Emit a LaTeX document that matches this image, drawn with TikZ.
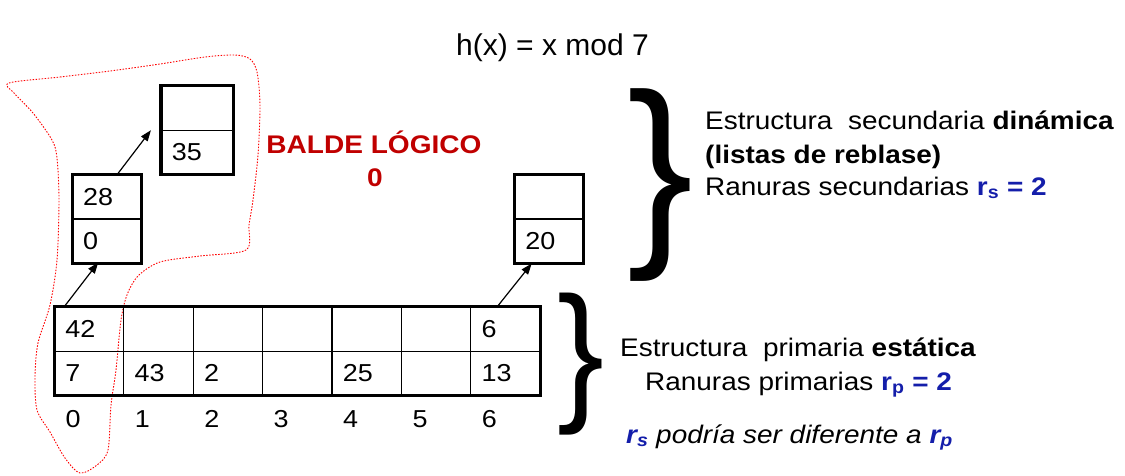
\documentclass[tikz,border=0pt]{standalone}
\usepackage{fontspec}
\usepackage{xcolor}
\usepackage{graphicx}
\usepackage{tikz}
\setmainfont{Liberation Sans}[FakeStretch=1.1]
\newfontfamily\titlefont{Liberation Sans}
\usetikzlibrary{arrows.meta, positioning, calc}
\definecolor{baldeColor}{RGB}{192,0,0}
\definecolor{rColor}{RGB}{20,30,170}
\definecolor{outlineColor}{RGB}{255,0,0}

\begin{document}
\begin{tikzpicture}[x=1pt, y=-1pt,
        cell/.style={rectangle, draw, line width=1.2pt, outer sep=0pt, inner xsep=11pt, inner ysep=0pt, text width=47.4pt, minimum height=44.5pt, align=left, font=\fontsize{24.5}{28}\selectfont},
        frame/.style={line width=3.2pt},
        arrow/.style={-{Triangle[length=11pt, width=8pt]}, line width=1.2pt},
        note/.style={anchor=base west, inner sep=0pt, font=\fontsize{25.4}{30}\selectfont},
        brace/.style={inner sep=0pt}
    ]
        \useasboundingbox (0,0) rectangle (1125,475);

        % Logical bucket outline
        \draw[draw=outlineColor, line width=0.9pt, dash pattern=on 1.5pt off 1.5pt]
            plot[smooth cycle, tension=0.5] coordinates {(9,83) (60,77) (110,71) (160,64) (205,57) (235,55) (250,59) (257,72) (260,105) (258,155) (253,200) (249,225) (246,250) (200,256) (160,262) (138,276) (127,295) (121,320) (116,370) (111,405) (108,450) (97,465) (80,473) (65,458) (50,432) (37,410) (35,377) (38,343) (50,305) (57,260) (59,200) (57,158) (52,140) (33,113) (14,93)};

        % Title
        \node[anchor=base, font=\titlefont\fontsize{30}{34}\selectfont] (title) at (552.5,55) {h(x) = x mod 7};

        % Primary table
        \foreach \i/\cellA/\cellB in {0/42/7, 1//43, 2//2, 3//, 4//25, 5//, 6/6/13} {
            \node[cell] (p\i a) at ({89+69.4*\i}, 328.85) {\cellA};
            \node[cell, below=0pt of p\i a] (p\i b) {\cellB};
            \node[anchor=base west, inner sep=0pt, font=\fontsize{24.5}{28}\selectfont] (n\i) at ($(p\i b.south west)+(11,32)$) {\i};
        }
        \draw[frame] (p0a.north west) rectangle (p6b.south east);

        % Overflow buckets
        \node[cell] (s0a) at (106.9,196.75) {28};
        \node[cell, below=0pt of s0a] (s0b) {0};
        \node[cell, text width=50.5pt] (s1a) at (197.2,107.95) {};
        \node[cell, text width=50.5pt, below=0pt of s1a] (s1b) {35};
        \node[cell] (s2a) at (549,196.75) {};
        \node[cell, below=0pt of s2a] (s2b) {20};
        \draw[frame] (s0a.north west) rectangle (s0b.south east);
        \draw[frame] (s1a.north west) rectangle (s1b.south east);
        \draw[frame] (s2a.north west) rectangle (s2b.south east);

        % Arrows
        \draw[arrow] ($(p0a.north west)+(10,0)$) -- ($(s0b.south west)+(26,-1)$);
        \draw[arrow] ($(s0a.north west)+(45,0)$) -- ($(s1b.north west)+(-10,0)$);
        \draw[arrow] ($(p6a.north west)+(26.6,0)$) -- ($(s2b.south west)+(17.4,0)$);

        % Bucket label
        \node[anchor=base, inner sep=0pt, text=baldeColor, font=\bfseries\fontsize{25.5}{30}\selectfont] (balde) at (374,153.3) {BALDE LÓGICO};
        \node[anchor=base, inner sep=0pt, text=baldeColor, font=\bfseries\fontsize{25.5}{30}\selectfont] (baldeNum) at (375,186.7) {0};

        % Braces
        \node[brace] (braceS) at (661,185) {\resizebox{66pt}{149.6pt}{\titlefont\}}};
        \node[brace] (braceP) at (580.5,364.5) {\resizebox{47pt}{110.4pt}{\titlefont\}}};

        % Side annotations
        \node[note] (secA) at (705,129.3) {Estructura\ \ secundaria \textbf{dinámica}};
        \node[note] (secB) at (705,163.3) {\textbf{(listas de reblase)}};
        \node[note] (secC) at (705,195) {Ranuras secundarias \textcolor{rColor}{\textbf{r\textsubscript{s} = 2}}};
        \node[note] (primA) at (620,356.7) {Estructura\ \ primaria \textbf{estática}};
        \node[note] (primB) at (645,390) {Ranuras primarias \textcolor{rColor}{\textbf{r\textsubscript{p} = 2}}};
        \node[note] (remark) at (626,443) {\itshape\textcolor{rColor}{\textbf{r\textsubscript{s}}} podría ser diferente a \textcolor{rColor}{\textbf{r\textsubscript{p}}}};
    \end{tikzpicture}
\end{document}
